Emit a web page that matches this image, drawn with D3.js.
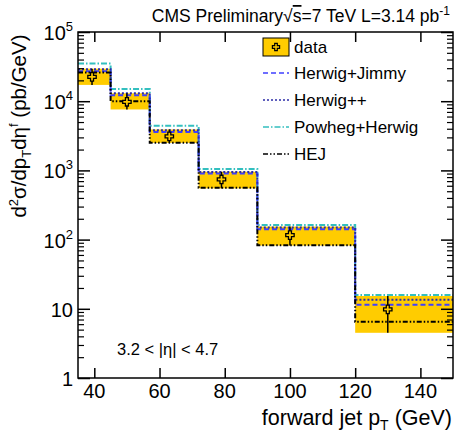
<!DOCTYPE html>
<html>
<head>
<meta charset="utf-8">
<script src="https://cdn.jsdelivr.net/npm/d3@7"></script>
<style>
  body { margin: 0; background: #fff; }
  svg { display: block; font-family: "Liberation Sans", Arial, sans-serif; }
</style>
</head>
<body>
<svg id="chart"></svg>
<script>
/* chart values */
var binEdges = [35, 45, 57, 72, 90, 120, 150];
var dataX = [39.3, 50, 63, 79, 100, 130];
var dataY = [22500, 9800, 3100, 740, 116, 9.8];
var bandLo = [17200, 7600, 2500, 550, 82, 4.5];
var bandHi = [29500, 13000, 3900, 955, 154, 15.3];
var herwigJimmy = [27000, 12200, 3600, 900, 141, 11.4];
var herwigPP = [29000, 13000, 3800, 950, 150, 13.5];
var powheg = [35000, 15000, 4400, 1050, 163, 15.8];
var hej = [26000, 10000, 2500, 560, 83, 6.5];
var xTicks = [40, 60, 80, 100, 120, 140];
var yMajor = [1, 10, 100, 1000, 10000, 100000];
var yExp = ['', '', '2', '3', '4', '5'];

var width = 454, height = 437;
var frameL = 78, frameR = 453, frameT = 32, frameB = 378;
var yellow = '#ffcc00';

var svg = d3.select('#chart').attr('width', width).attr('height', height);

var x = d3.scaleLinear().domain([35, 150]).range([frameL, frameR]);
var y = d3.scaleLog().domain([1, 1e5]).range([frameB, frameT]);

/* series styles */
var models = [
    {name: 'Powheg+Herwig', values: powheg, color: '#33bfbf', dash: '6,2,1.5,2'},
    {name: 'Herwig+Jimmy', values: herwigJimmy, color: '#3f3fff', dash: '5,3'},
    {name: 'Herwig++', values: herwigPP, color: '#2c2ca8', dash: '2,2'},
    {name: 'HEJ', values: hej, color: '#000', dash: '5,2,1.5,2,1.5,2'}
];

/* yellow uncertainty band */
svg.selectAll('rect.band')
    .data(dataY)
    .enter()
    .append('rect')
    .attr('class', 'band')
    .attr('x', function(d, i){ return x(binEdges[i]); })
    .attr('width', function(d, i){ return x(binEdges[i + 1]) - x(binEdges[i]); })
    .attr('y', function(d, i){ return y(bandHi[i]); })
    .attr('height', function(d, i){ return y(bandLo[i]) - y(bandHi[i]); })
    .attr('fill', yellow);

/* model histograms as step lines */
function stepPoints(values){
    var pts = [];
    values.forEach(function(v, i){
        pts.push([binEdges[i], v]);
        pts.push([binEdges[i + 1], v]);
    });
    return pts;
}
var line = d3.line()
    .x(function(d){ return x(d[0]); })
    .y(function(d){ return y(d[1]); });

models.forEach(function(m){
    svg.append('path')
        .attr('d', line(stepPoints(m.values)))
        .attr('fill', 'none')
        .attr('stroke', m.color)
        .attr('stroke-width', 2)
        .attr('stroke-dasharray', m.dash);
});

/* open cross marker */
function crossPath(a, L){
    return 'M' + (-a) + ',' + (-L) + 'H' + a + 'V' + (-a) + 'H' + L + 'V' + a + 'H' + a +
        'V' + L + 'H' + (-a) + 'V' + a + 'H' + (-L) + 'V' + (-a) + 'H' + (-a) + 'Z';
}

/* data points with error bars */
var pts = svg.selectAll('g.point')
    .data(dataY)
    .enter()
    .append('g')
    .attr('class', 'point');
pts.append('line')
    .attr('x1', function(d, i){ return x(dataX[i]); })
    .attr('x2', function(d, i){ return x(dataX[i]); })
    .attr('y1', function(d, i){ return y(bandHi[i]); })
    .attr('y2', function(d, i){ return y(bandLo[i]); })
    .attr('stroke', '#000')
    .attr('stroke-width', 1.5);
pts.append('path')
    .attr('d', crossPath(1.5, 4.2))
    .attr('transform', function(d, i){ return 'translate(' + x(dataX[i]) + ',' + y(d) + ')'; })
    .attr('fill', yellow)
    .attr('stroke', '#000')
    .attr('stroke-width', 1.3);

/* frame */
svg.append('rect')
    .attr('x', frameL).attr('y', frameT)
    .attr('width', frameR - frameL).attr('height', frameB - frameT)
    .attr('fill', 'none').attr('stroke', '#000').attr('stroke-width', 1.5);

/* x axis ticks, bottom and top, pointing inwards */
svg.append('g')
    .attr('transform', 'translate(0,' + frameB + ')')
    .call(d3.axisBottom(x).tickValues(xTicks).tickSize(-10).tickFormat(''))
    .call(function(g){ g.select('.domain').remove(); g.selectAll('line').attr('stroke-width', 1.5); });
svg.append('g')
    .attr('transform', 'translate(0,' + frameT + ')')
    .call(d3.axisTop(x).tickValues(xTicks).tickSize(-10).tickFormat(''))
    .call(function(g){ g.select('.domain').remove(); g.selectAll('line').attr('stroke-width', 1.5); });

svg.selectAll('text.xlab')
    .data(xTicks)
    .enter()
    .append('text')
    .attr('class', 'xlab')
    .attr('x', function(d){ return x(d); })
    .attr('y', 398)
    .attr('text-anchor', 'middle')
    .attr('font-size', 20)
    .text(function(d){ return d; });

/* y axis ticks, left and right, major and minor */
var yMinor = y.ticks().filter(function(t){ return yMajor.indexOf(t) < 0; });
[[frameL, d3.axisLeft], [frameR, d3.axisRight]].forEach(function(s){
    svg.append('g')
        .attr('transform', 'translate(' + s[0] + ',0)')
        .call(s[1](y).tickValues(yMajor).tickSize(-12).tickFormat(''))
        .call(function(g){ g.select('.domain').remove(); g.selectAll('line').attr('stroke-width', 1.5); });
    svg.append('g')
        .attr('transform', 'translate(' + s[0] + ',0)')
        .call(s[1](y).tickValues(yMinor).tickSize(-6).tickFormat(''))
        .call(function(g){ g.select('.domain').remove(); g.selectAll('line').attr('stroke-width', 1.2); });
});

var ylab = svg.selectAll('text.ylab')
    .data(yMajor)
    .enter()
    .append('text')
    .attr('class', 'ylab')
    .attr('x', 73)
    .attr('y', function(d){ return y(d) + 8; })
    .attr('text-anchor', 'end')
    .attr('font-size', 20);
ylab.append('tspan')
    .text(function(d){ return d === 1 ? '1' : '10'; });
ylab.append('tspan')
    .attr('font-size', 13)
    .attr('dy', -9)
    .text(function(d, i){ return yExp[i]; });

/* axis titles */
var xt = svg.append('text')
    .attr('x', 452).attr('y', 425)
    .attr('text-anchor', 'end')
    .attr('font-size', 21.5);
xt.append('tspan').text('forward jet p');
xt.append('tspan').attr('font-size', 14).attr('dy', 5).text('T');
xt.append('tspan').attr('dy', -5).text(' (GeV)');

var yt = svg.append('text')
    .attr('transform', 'translate(26,126) rotate(-90)')
    .attr('text-anchor', 'middle')
    .attr('font-size', 20.5);
yt.append('tspan').text('d');
yt.append('tspan').attr('font-size', 13).attr('dy', -8).text('2');
yt.append('tspan').attr('dy', 8).text('σ/dp');
yt.append('tspan').attr('font-size', 13).attr('dy', 5).text('T');
yt.append('tspan').attr('dy', -5).text('dη');
yt.append('tspan').attr('font-size', 13).attr('dy', -8).text('f');
yt.append('tspan').attr('dy', 8).text(' (pb/GeV)');

/* header */
var title = svg.append('text')
    .attr('x', 450).attr('y', 22)
    .attr('text-anchor', 'end')
    .attr('font-size', 17.5);
title.append('tspan').text('CMS Preliminary√');
title.append('tspan').attr('text-decoration', 'overline').text('s');
title.append('tspan').text('=7 TeV L=3.14 pb');
title.append('tspan').attr('font-size', 12).attr('dy', -7).text('-1');

/* eta range label */
svg.append('text')
    .attr('x', 117).attr('y', 355)
    .attr('font-size', 16.5)
    .text('3.2 < |η| < 4.7');

/* legend */
var lg = svg.append('g');
lg.append('rect')
    .attr('x', 263).attr('y', 38).attr('width', 26).attr('height', 18)
    .attr('fill', yellow).attr('stroke', '#000').attr('stroke-width', 1);
lg.append('path')
    .attr('d', crossPath(1.3, 3.6))
    .attr('transform', 'translate(276,47)')
    .attr('fill', yellow).attr('stroke', '#000').attr('stroke-width', 1.2);
lg.append('text')
    .attr('x', 294).attr('y', 53)
    .attr('font-size', 17)
    .text('data');

var legendOrder = [models[1], models[2], models[0], models[3]];
legendOrder.forEach(function(m, i){
    var cy = 73 + i * 27;
    lg.append('line')
        .attr('x1', 263).attr('x2', 289)
        .attr('y1', cy).attr('y2', cy)
        .attr('stroke', m.color)
        .attr('stroke-width', 1.5)
        .attr('stroke-dasharray', m.dash);
    lg.append('text')
        .attr('x', 294).attr('y', cy + 6)
        .attr('font-size', 17)
        .text(m.name);
});
</script>
</body>
</html>
